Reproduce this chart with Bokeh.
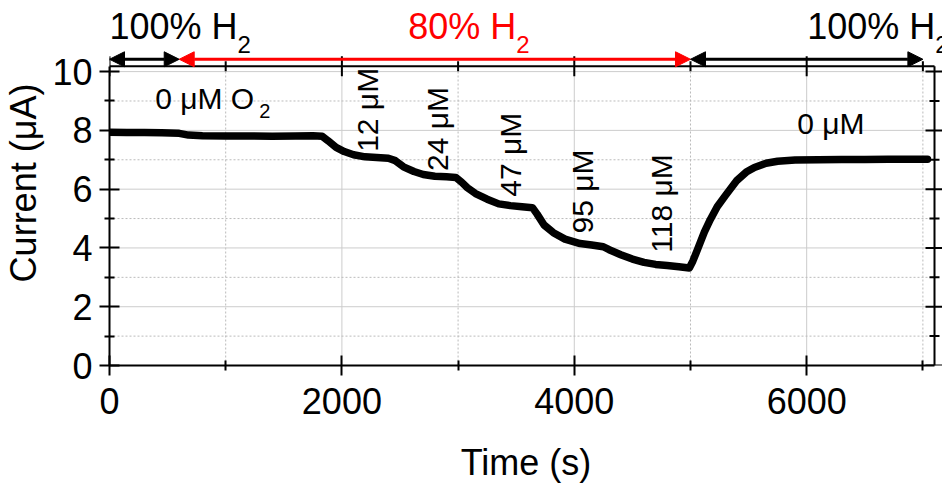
import math

from bokeh.plotting import figure
from bokeh.models import (LinearAxis, FixedTicker, Range1d, Label, Arrow,
                          NormalHead, ColumnDataSource)
from bokeh.core.properties import value
from bokeh.embed import file_html
from bokeh.resources import INLINE

FONT = "Liberation Sans"

# Chronoamperometric trace: time (s) vs. current (uA)
time_s = [0, 150, 300, 450, 600, 680, 800, 1000, 1200, 1400,
          1600, 1750, 1830, 1880, 1950, 2020, 2100, 2200, 2300, 2400,
          2460, 2530, 2620, 2700, 2800, 2900, 2980, 3030, 3080, 3150,
          3250, 3350, 3450, 3550, 3640, 3680, 3740, 3820, 3920, 4050,
          4150, 4250, 4300, 4400, 4500, 4600, 4700, 4800, 4900, 4990,
          5020, 5060, 5120, 5170, 5230, 5300, 5400, 5480, 5550, 5650,
          5750, 5900, 6100, 6300, 6500, 6700, 6900, 7040]
current_uA = [7.94, 7.93, 7.93, 7.92, 7.90, 7.84, 7.82, 7.81, 7.81, 7.80,
              7.81, 7.82, 7.80, 7.65, 7.42, 7.28, 7.17, 7.10, 7.08, 7.05,
              6.97, 6.76, 6.60, 6.50, 6.44, 6.42, 6.40, 6.24, 6.05, 5.85,
              5.66, 5.50, 5.44, 5.40, 5.37, 5.15, 4.78, 4.52, 4.30, 4.15,
              4.10, 4.04, 3.94, 3.77, 3.62, 3.51, 3.44, 3.40, 3.36, 3.32,
              3.55, 3.94, 4.55, 4.96, 5.40, 5.78, 6.30, 6.58, 6.74, 6.88,
              6.95, 6.99, 7.00, 7.01, 7.01, 7.02, 7.02, 7.02]

# Tick positions
x_major = [0, 2000, 4000, 6000]
x_minor = [1000, 3000, 5000, 7000]
y_major = [0, 2, 4, 6, 8, 10]
y_minor = [1, 3, 5, 7, 9]

# Dissolved O2 steps (vertical labels)
step_labels = ["12 μM", "24 μM", "47 μM", "95 μM", "118 μM"]
step_x = [2220, 2820, 3450, 4070, 4750]
step_y = [7.27, 6.62, 5.74, 4.49, 3.84]

# Gas composition periods shown above the axes box
gas_labels = ["100% H", "80% H", "100% H"]
gas_label_x = [0, 2571, 6004]
gas_start = [0, 600, 5000]
gas_end = [600, 5000, 7000]
gas_colors = ["black", "red", "black"]
gas_sub_offset = [128, 108, 128]   # px width of the text before the "2"

# Axes box limits
X_MAX, Y_MAX = 7100, 10.18

# Canvas geometry: the frame fills the canvas above and right of the axes
W, H = 942, 485
LEFT, BOTTOM = 109, 119
PX_PER_X = 825 / X_MAX            # axes box is 825 px wide
PX_PER_Y = 300 / Y_MAX            # and 300 px tall
X_END = (W - LEFT) / PX_PER_X
Y_TOP = (H - BOTTOM) / PX_PER_Y

ARROW_Y = 10.42
GAS_BASE_Y, GAS_SUB_Y = 11.54, 10.92

p = figure(width=W, height=H, output_backend="svg", toolbar_location=None,
           x_range=Range1d(0, X_END), y_range=Range1d(0, Y_TOP),
           x_axis_location=None, y_axis_location=None,
           min_border_left=LEFT, min_border_right=0,
           min_border_top=0, min_border_bottom=BOTTOM)
p.outline_line_color = None
p.xgrid.visible = False
p.ygrid.visible = False
p.background_fill_color = "white"
p.border_fill_color = "white"


def styled_axis(ticker, label, bounds):
    ax = LinearAxis(ticker=ticker, bounds=bounds)
    ax.axis_line_width = 2
    ax.major_tick_line_width = 2
    ax.minor_tick_line_width = 2
    ax.major_tick_in = 10
    ax.major_tick_out = 10
    ax.minor_tick_in = 5
    ax.minor_tick_out = 5
    ax.major_label_text_font = FONT
    ax.major_label_text_font_size = "36px"
    ax.major_label_text_color = "black"
    ax.axis_label = label
    ax.axis_label_text_font = FONT
    ax.axis_label_text_font_size = "36px"
    ax.axis_label_text_font_style = "normal"
    ax.axis_label_text_color = "black"
    return ax


xb = styled_axis(FixedTicker(ticks=x_major, minor_ticks=x_minor),
                 "Time (s)", (0, X_MAX))
xb.major_label_standoff = 12
xb.axis_label_standoff = 25
yl = styled_axis(FixedTicker(ticks=y_major, minor_ticks=y_minor),
                 "Current (μA)", (0, Y_MAX))
yl.major_label_standoff = 7
yl.axis_label_standoff = 5
p.add_layout(xb, "below")
p.add_layout(yl, "left")

# grid lines, limited to the axes box
p.segment(x0=x_major[1:], y0=0, x1=x_major[1:], y1=Y_MAX,
          line_color="#cccccc", line_width=1)
p.segment(x0=x_minor, y0=0, x1=x_minor, y1=Y_MAX,
          line_color="#bbbbbb", line_width=1, line_dash="2 2")
p.segment(x0=0, y0=y_major[1:], x1=X_MAX, y1=y_major[1:],
          line_color="#cccccc", line_width=1)
p.segment(x0=0, y0=y_minor, x1=X_MAX, y1=y_minor,
          line_color="#bbbbbb", line_width=1, line_dash="2 2")

# O2 concentration labels (drawn beneath the trace)
steps = ColumnDataSource(dict(x=step_x, y=step_y, t=step_labels))
p.text(x="x", y="y", text="t", source=steps, angle=math.pi / 2,
       text_align="left", text_baseline="middle",
       text_font=value(FONT), text_font_size=value("30px"), text_color="black")

# current trace
p.line(time_s, current_uA, line_color="black", line_width=7.5,
       line_join="round", line_cap="round")

# mirrored top and right axes (unlabelled, ticks crossing the line)
tx_maj, tx_min = 10 / PX_PER_Y, 5 / PX_PER_Y
ty_maj, ty_min = 9 / PX_PER_X, 5 / PX_PER_X
p.segment(x0=0, y0=Y_MAX, x1=X_MAX, y1=Y_MAX, line_color="black", line_width=2)
p.segment(x0=X_MAX, y0=0, x1=X_MAX, y1=Y_MAX, line_color="black", line_width=2)
p.segment(x0=x_major, y0=Y_MAX - tx_maj, x1=x_major, y1=Y_MAX + tx_maj,
          line_color="black", line_width=2)
p.segment(x0=x_minor, y0=Y_MAX - tx_min, x1=x_minor, y1=Y_MAX + tx_min,
          line_color="black", line_width=2)
p.segment(x0=X_MAX - ty_maj, y0=y_major, x1=X_MAX + ty_maj, y1=y_major,
          line_color="black", line_width=2)
p.segment(x0=X_MAX - ty_min, y0=y_minor, x1=X_MAX + ty_min, y1=y_minor,
          line_color="black", line_width=2)

# free-standing annotations inside the box
p.add_layout(Label(x=393, y=9.09, text="0 μM O", text_font=FONT,
                   text_font_size="30px", text_color="black",
                   text_baseline="alphabetic"))
p.add_layout(Label(x=393, y=8.65, x_offset=104, text="2", text_font=FONT,
                   text_font_size="20px", text_color="black",
                   text_baseline="alphabetic"))
p.add_layout(Label(x=5918, y=8.25, text="0 μM", text_font=FONT,
                   text_font_size="30px", text_color="black",
                   text_baseline="alphabetic"))

# gas composition arrows and labels above the box
for lab, lx, xs, xe, col, off in zip(gas_labels, gas_label_x, gas_start,
                                     gas_end, gas_colors, gas_sub_offset):
    p.add_layout(Arrow(x_start=xs, y_start=ARROW_Y, x_end=xe, y_end=ARROW_Y,
                       line_color=col, line_width=3,
                       start=NormalHead(size=15, fill_color=col, line_color=col),
                       end=NormalHead(size=15, fill_color=col, line_color=col)))
    p.add_layout(Label(x=lx, y=GAS_BASE_Y, text=lab, text_font=FONT,
                       text_font_size="36px", text_color=col,
                       text_baseline="alphabetic"))
    p.add_layout(Label(x=lx, y=GAS_SUB_Y, x_offset=off, text="2",
                       text_font=FONT, text_font_size="24px", text_color=col,
                       text_baseline="alphabetic"))

open("out.html", "w").write(file_html(p, INLINE))
